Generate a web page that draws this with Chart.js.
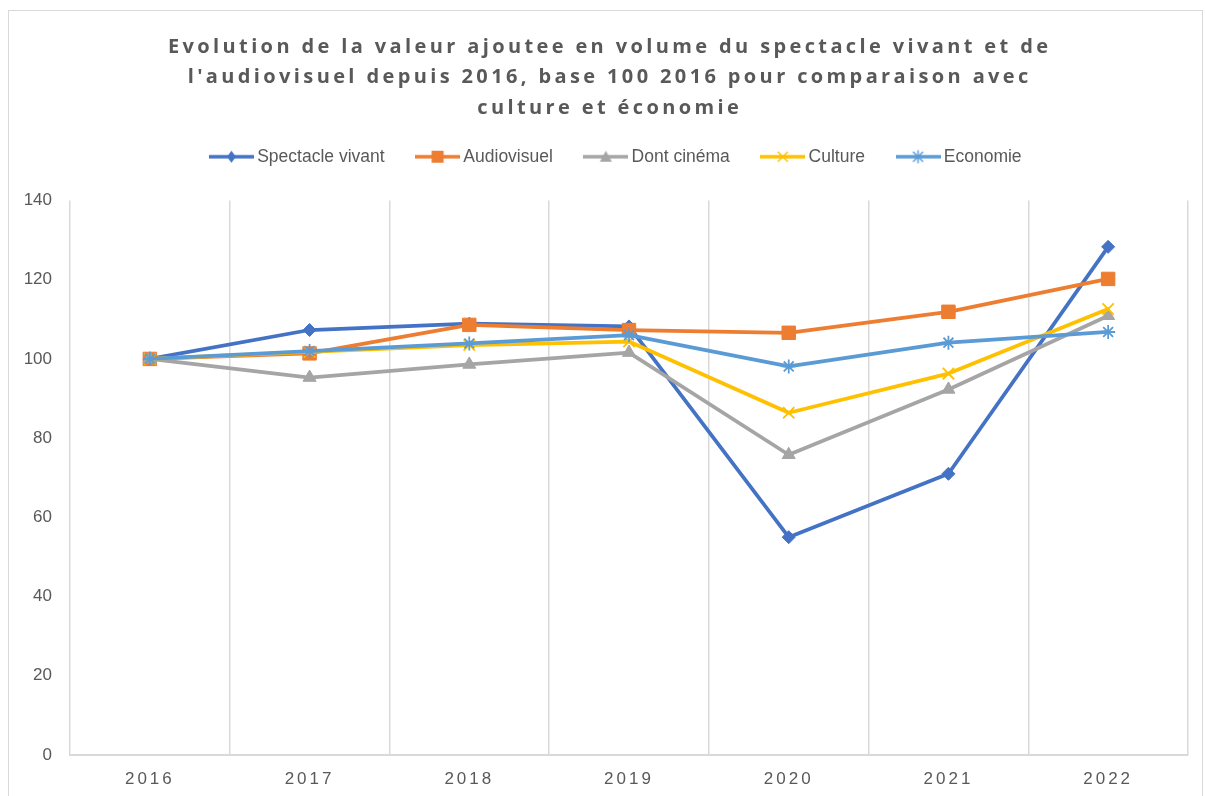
<!DOCTYPE html>
<html>
<head>
<meta charset="utf-8">
<script src="https://cdn.jsdelivr.net/npm/chart.js@4.4.1/dist/chart.umd.min.js"></script>
<style>
html,body{margin:0;padding:0;background:#fff;}
#wrap{width:1205px;height:796px;position:relative;}
</style>
</head>
<body>
<div id="wrap"><canvas id="c" width="1205" height="796"></canvas></div>
<script>
// ---- Data ----
const titleLines = [
  "Evolution de la valeur ajoutee en volume du spectacle vivant et de",
  "l'audiovisuel depuis 2016, base 100 2016 pour comparaison avec",
  "culture et économie"
];
const years = ['2016', '2017', '2018', '2019', '2020', '2021', '2022'];
const seriesNames = ['Spectacle vivant', 'Audiovisuel', 'Dont cinéma', 'Culture', 'Economie'];
const spectacleVivant = [100, 107.3, 108.9, 108.2, 55.0, 71.0, 128.3];
const audiovisuel     = [100, 101.4, 108.6, 107.3, 106.6, 111.9, 120.2];
const dontCinema      = [100, 95.3, 98.6, 101.6, 75.8, 92.3, 110.9];
const culture         = [100, 101.8, 103.5, 104.4, 86.4, 96.3, 112.6];
const economie        = [100, 102.0, 103.9, 106.0, 98.1, 104.1, 106.8];
const yMin = 0, yMax = 140, yStep = 20;

// ---- Styles ----
const colors = ['#4472C4', '#ED7D31', '#A5A5A5', '#FFC000', '#5B9BD5'];
const markers = ['rectRot', 'rect', 'triangle', 'crossRot', 'star'];
const radii = [6.5, 9.5, 7.5, 8, 7];
const textColor = '#595959';
const gridColor = '#d9d9d9';
const baseFont = '"Liberation Sans", Arial, sans-serif';

function legendIcon(color, style) {
  const cv = document.createElement('canvas');
  cv.width = 45; cv.height = 16;
  const g = cv.getContext('2d');
  const cx = 22.5, cy = 8;
  g.strokeStyle = color; g.fillStyle = color;
  g.lineWidth = 3.5;
  g.beginPath(); g.moveTo(0, cy); g.lineTo(45, cy); g.stroke();
  g.beginPath();
  if (style === 'rectRot') {
    g.moveTo(cx, cy - 6); g.lineTo(cx + 4.5, cy); g.lineTo(cx, cy + 6); g.lineTo(cx - 4.5, cy); g.closePath(); g.fill();
  } else if (style === 'rect') {
    g.fillRect(cx - 6, cy - 6, 12, 12);
  } else if (style === 'triangle') {
    g.moveTo(cx, cy - 6); g.lineTo(cx + 6, cy + 5); g.lineTo(cx - 6, cy + 5); g.closePath(); g.fill();
  } else if (style === 'crossRot') {
    g.lineWidth = 1.5;
    g.moveTo(cx - 5, cy - 5); g.lineTo(cx + 5, cy + 5); g.moveTo(cx + 5, cy - 5); g.lineTo(cx - 5, cy + 5); g.stroke();
  } else if (style === 'star') {
    g.lineWidth = 1.5;
    g.moveTo(cx - 5, cy - 5); g.lineTo(cx + 5, cy + 5); g.moveTo(cx + 5, cy - 5); g.lineTo(cx - 5, cy + 5);
    g.moveTo(cx, cy - 6.5); g.lineTo(cx, cy + 6.5); g.stroke();
  }
  return cv;
}

const seriesData = [spectacleVivant, audiovisuel, dontCinema, culture, economie];
const datasets = seriesNames.map((name, i) => ({
  label: name,
  data: seriesData[i],
  borderColor: colors[i],
  backgroundColor: colors[i],
  borderWidth: 3.75,
  borderCapStyle: 'round',
  borderJoinStyle: 'round',
  tension: 0,
  fill: false,
  pointStyle: markers[i],
  pointRadius: radii[i],
  pointHoverRadius: radii[i],
  pointBackgroundColor: colors[i],
  pointBorderColor: colors[i],
  pointBorderWidth: (markers[i] === 'crossRot' || markers[i] === 'star') ? 1.8 : 1,
  order: seriesNames.length - i
}));

const framePlugin = {
  id: 'frame',
  beforeDraw(chart) {
    const ctx = chart.ctx;
    ctx.save();
    ctx.fillStyle = '#fff';
    ctx.fillRect(0, 0, chart.width, chart.height);
    ctx.strokeStyle = gridColor;
    ctx.lineWidth = 1;
    ctx.strokeRect(8.5, 10.5, 1194, 800);
    ctx.restore();
  }
};

// shift the legend row so that it sits where the reference places it
const legendShiftPlugin = {
  id: 'legendShift',
  afterLayout(chart) {
    if (chart.legend) { chart.legend.left += 24; chart.legend.right += 24; }
  }
};

const tickSpacingPlugin = {
  id: 'tickSpacing',
  afterDatasetsDraw(chart) { chart.ctx.letterSpacing = '3px'; },
  afterDraw(chart) { chart.ctx.letterSpacing = '0px'; }
};

const titlePlugin = {
  id: 'customTitle',
  afterDraw(chart) {
    const ctx = chart.ctx;
    ctx.save();
    ctx.letterSpacing = '0px';
    ctx.font = 'bold 20px "Open Sans", "Liberation Sans", Arial, sans-serif';
    const w0 = ctx.measureText(titleLines[0]).width;
    const ls = Math.max(0, (880 - w0) / (titleLines[0].length - 1));
    ctx.letterSpacing = ls + 'px';
    ctx.fillStyle = textColor;
    ctx.textAlign = 'center';
    ctx.textBaseline = 'alphabetic';
    titleLines.forEach((t, i) => ctx.fillText(t, 608 + ls / 2, 52.5 + i * 30.5));
    ctx.restore();
  }
};

new Chart(document.getElementById('c'), {
  type: 'line',
  data: { labels: years, datasets: datasets },
  plugins: [framePlugin, legendShiftPlugin, tickSpacingPlugin, titlePlugin],
  options: {
    responsive: false,
    animation: false,
    devicePixelRatio: 1,
    layout: { padding: { top: 112, right: 17, bottom: 0, left: 0 } },
    plugins: {
      title: { display: false },
      subtitle: {
        display: true, text: '', weight: 500,
        font: { size: 1, lineHeight: 1 },
        padding: { top: 0, bottom: 24 }
      },
      tooltip: { enabled: false },
      legend: {
        display: true,
        position: 'top',
        labels: {
          usePointStyle: true,
          pointStyleWidth: 34,
          boxHeight: 16,
          padding: 36,
          color: textColor,
          font: { family: baseFont, size: 17.5 },
          generateLabels(chart) {
            return chart.data.datasets.map((ds, i) => ({
              text: ds.label,
              fillStyle: ds.borderColor,
              strokeStyle: ds.borderColor,
              lineWidth: 0,
              fontColor: textColor,
              pointStyle: legendIcon(ds.borderColor, markers[i]),
              hidden: false,
              datasetIndex: i
            }));
          }
        }
      }
    },
    scales: {
      x: {
        offset: true,
        grid: { display: true, offset: true, color: gridColor, lineWidth: 1.5, drawTicks: false },
        border: { display: true, color: gridColor, width: 2 },
        ticks: {
          z: 1,
          color: textColor,
          padding: 14,
          font: { family: baseFont, size: 17 }
        },
        afterFit(scale) { scale.height = 41; }
      },
      y: {
        min: yMin, max: yMax,
        grid: { display: false, drawTicks: false },
        border: { display: false },
        ticks: {
          stepSize: yStep,
          color: textColor,
          padding: 18,
          font: { family: baseFont, size: 17 }
        },
        afterFit(scale) { scale.width = 70; }
      }
    }
  }
});
</script>
</body>
</html>
